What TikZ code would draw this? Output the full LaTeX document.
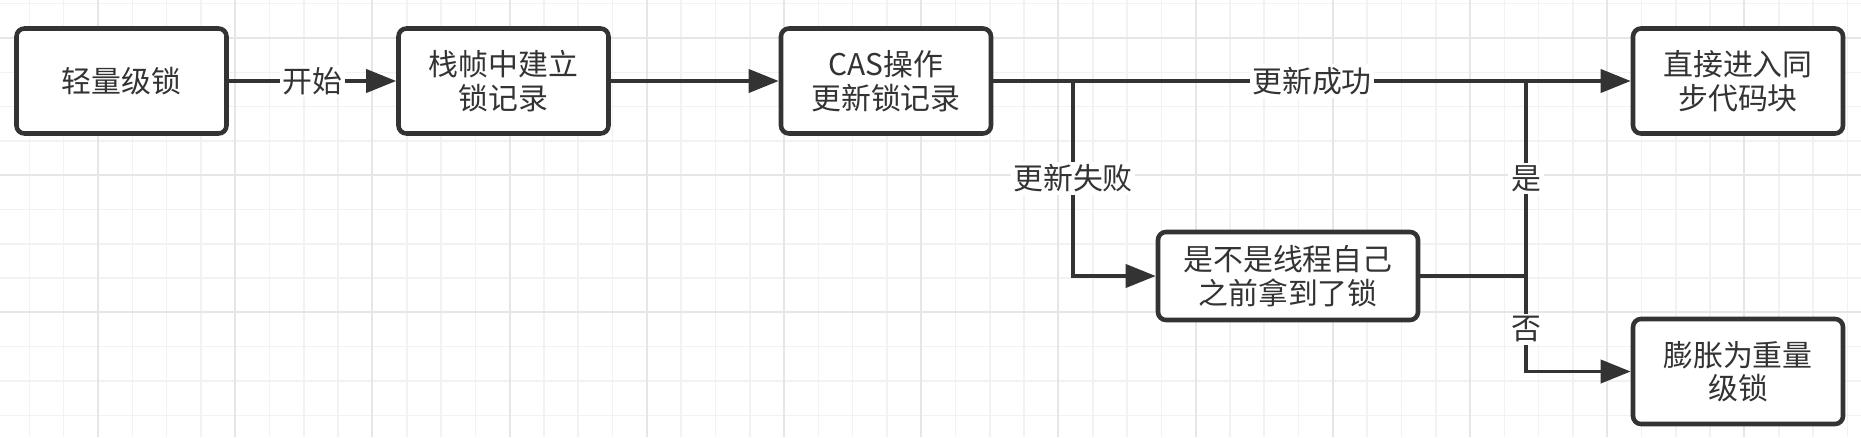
\documentclass[tikz,border=0pt]{standalone}
\usepackage{fontspec}
\setmainfont{Noto Sans CJK SC}
\usetikzlibrary{arrows.meta,calc,positioning}

\definecolor{ink}{HTML}{333333}
\definecolor{gridlo}{HTML}{F2F2F2}
\definecolor{gridhi}{HTML}{E6E6E6}

\begin{document}
\begin{tikzpicture}[
        box/.style={draw=ink, line width=2.6pt, rounded corners=0.16cm, fill=white, text=ink,
            align=center, inner sep=0pt, minimum width=4.2cm, minimum height=2.1cm,
            font=\fontsize{17}{19}\selectfont},
        flow/.style={draw=ink, line width=2.2pt, -{Triangle[length=0.6cm,width=0.46cm]}},
        link/.style={draw=ink, line width=2.2pt},
        lbl/.style={fill=white, text=ink, inner sep=1.5pt, font=\fontsize{17}{19}\selectfont}
    ]
        \useasboundingbox (0,0) rectangle (37.22,8.74);

        % background grid, a darker line every fourth one
        \foreach \i in {0,...,53}{
            \draw[gridlo, line width=0.9pt] ({0.588+\i*0.686},0) -- ++(0,8.74);
        }
        \foreach \i in {0,...,12}{
            \draw[gridlo, line width=0.9pt] (0,{8.666-\i*0.686}) -- ++(37.22,0);
        }
        \foreach \i in {0,...,12}{
            \draw[gridhi, line width=1.1pt] ({1.96+\i*2.744},0) -- ++(0,8.74);
        }
        \foreach \i in {0,...,2}{
            \draw[gridhi, line width=1.1pt] (0,{7.98-\i*2.744}) -- ++(37.22,0);
        }

        % the steps
        \node[box] (light) at (2.43,7.12) {轻量级锁};
        \node[box] (record) at (10.07,7.12) {栈帧中建立\\锁记录};
        \node[box] (cas) at (17.72,7.12) {CAS操作\\更新锁记录};
        \node[box] (sync) at (34.76,7.12) {直接进入同\\步代码块};
        \node[box, minimum width=5.2cm, minimum height=1.76cm] (own) at (25.76,3.22) {是不是线程自己\\之前拿到了锁};
        \node[box] (heavy) at (34.76,1.31) {膨胀为重量\\级锁};

        % branch points on the lines
        \coordinate (fork) at (21.46,7.12);
        \coordinate (merge) at (30.52,3.22);

        % draw the connectors
        \draw[flow] (light) -- node[lbl] {开始} (record);
        \draw[flow] (record) -- (cas);
        \draw[flow] (cas) -- node[lbl, pos=0.5] {更新成功} (sync);
        \draw[flow] (fork) |- node[lbl, pos=0.25] {更新失败} (own);
        \draw[link] (own) -- (merge);
        \draw[link] (merge) -- node[lbl] {是} (merge |- sync);
        \draw[flow] (merge) |- node[lbl, pos=0.28] {否} (heavy);

    \end{tikzpicture}
\end{document}
